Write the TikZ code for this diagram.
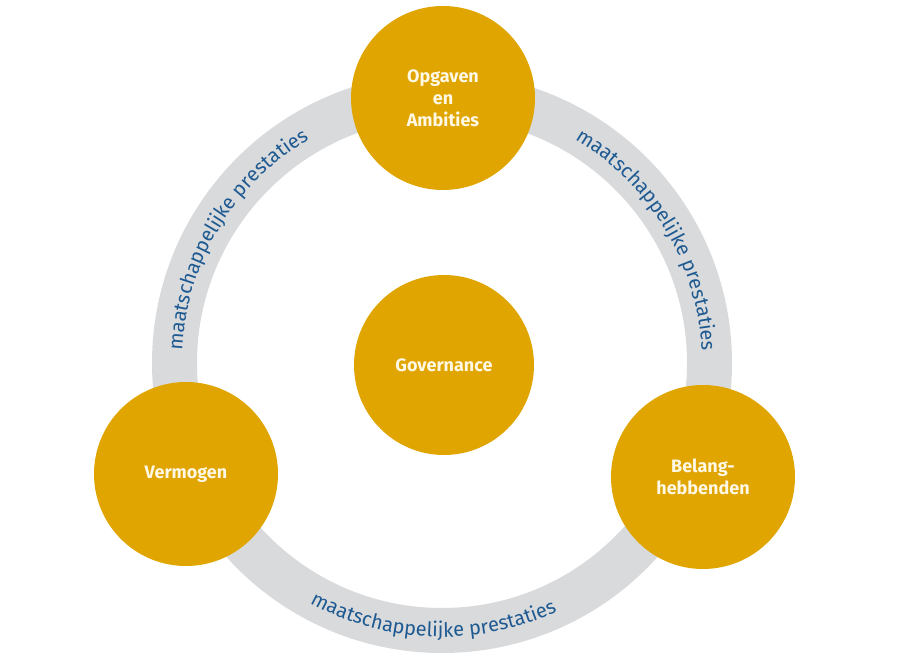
\documentclass[tikz,border=0pt]{standalone}
\usepackage{fontspec}
\setmainfont{Fira Sans}
\usetikzlibrary{positioning,decorations.text}
\definecolor{pillargold}{RGB}{224,165,0}
\definecolor{ringgray}{RGB}{217,218,220}
\definecolor{ringblue}{RGB}{30,90,145}
\definecolor{cream}{RGB}{255,248,228}
\newcommand{\ringfont}{\fontsize{20}{22}\selectfont}

\begin{document}
\begin{tikzpicture}[x=1pt,y=1pt,
    pillar/.style={circle,fill=pillargold,minimum size=184pt,inner sep=0pt,
      align=center,text=cream,font=\fontsize{18}{22}\selectfont\bfseries},
    ringtext/.style={decorate,decoration={text along path,text align=center,
      text color=ringblue,text={|\ringfont|maatschappelijke prestaties}}}]
  \useasboundingbox (0,0) rectangle (901,663);

  % Ring
  \coordinate (ring) at (442,300);
  \draw[ringgray,line width=45pt] (ring) circle[radius=267.5pt];

  % Text on the ring
  \path[ringtext] ([shift={(190:260pt)}]ring) arc[start angle=190,end angle=108,radius=260pt];
  \path[ringtext] ([shift={(72:260pt)}]ring) arc[start angle=72,end angle=-10,radius=260pt];
  \path[ringtext] ([shift={(226:274pt)}]ring) arc[start angle=226,end angle=310,radius=274pt];

  % Circles
  \node[pillar] (opgaven) at (443,565) {Opgaven\\en\\Ambities};
  \node[pillar,minimum size=180pt] (governance) at (444,298) {Governance};
  \node[pillar] (vermogen) at (186,189) {Vermogen};
  \node[pillar] (belang) at (703,186) {Belang-\\hebbenden};
\end{tikzpicture}
\end{document}
